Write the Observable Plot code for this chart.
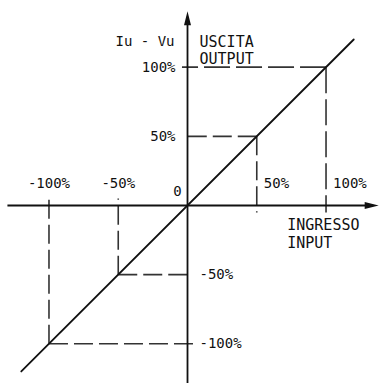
<!DOCTYPE html>
<html><head><meta charset="utf-8">
<script src="https://cdn.jsdelivr.net/npm/d3@7"></script>
<script src="https://cdn.jsdelivr.net/npm/@observablehq/plot@0.6"></script>
<style>body{margin:0;background:#fff} svg{display:block}</style>
</head><body><div id="chart"></div>
<script>
// data (percent of full scale)
const levels = [100, 50, -50, -100];
const levelLabels = ["100%", "50%", "-50%", "-100%"];
const lineExtent = [-120, 120];
const xAxisExtent = [-130, 138];
const yAxisExtent = [-130, 140.5];
const yTitle = "Iu - Vu";
const outputTitle = ["USCITA", "OUTPUT"];
const inputTitle = ["INGRESSO", "INPUT"];
const inputTitleX = 72;
const zeroLabel = "0";

const diag = lineExtent.map(v => ({x: v, y: v}));
const over = (v, a) => (v > 0 ? -a : a);
const hGuides = levels.map(v => ({x1: v, x2: over(v, 4), y: v}));
const vGuides = levels.map(v => ({y1: v, y2: over(v, 5), x: v}));
const labels = levels.map((v, i) => ({v, label: levelLabels[i]}));
const isBig = d => d.x1 === 100 || d.y1 === 100;

const arrowHead = {
  draw(ctx) {
    ctx.moveTo(0, 0);
    ctx.lineTo(-3.5, 14);
    ctx.lineTo(3.5, 14);
    ctx.closePath();
  }
};
const FONT = "DejaVu Sans Mono";
const ink = "#111";
const dashInk = "#333";
const dashOpts = {stroke: dashInk, strokeWidth: 1.6};

const chart = Plot.plot({
  width: 379, height: 383,
  margin: 0,
  x: {domain: [-135, 138.6], axis: null},
  y: {domain: [-128.7, 148.2], axis: null},
  style: {fontFamily: FONT, background: "#fff"},
  marks: [
    // dashed projection guides
    Plot.link(hGuides.filter(isBig), {x1: "x1", x2: "x2", y1: "y", y2: "y", ...dashOpts, strokeDasharray: "26,6"}),
    Plot.link(hGuides.filter(d => !isBig(d)), {x1: "x1", x2: "x2", y1: "y", y2: "y", ...dashOpts, strokeDasharray: "19,6"}),
    Plot.link(vGuides.filter(isBig), {x1: "x", x2: "x", y1: "y1", y2: "y2", ...dashOpts, strokeDasharray: "26,6"}),
    Plot.link(vGuides.filter(d => !isBig(d)), {x1: "x", x2: "x", y1: "y1", y2: "y2", ...dashOpts, strokeDasharray: "19,6"}),
    // axes
    Plot.link([0], {x1: xAxisExtent[0], x2: xAxisExtent[1] - 4, y1: 0, y2: 0, stroke: ink, strokeWidth: 1.8}),
    Plot.link([0], {y1: yAxisExtent[0], y2: yAxisExtent[1] - 4, x1: 0, x2: 0, stroke: ink, strokeWidth: 1.8}),
    Plot.dot([{x: xAxisExtent[1], y: 0}], {x: "x", y: "y", symbol: arrowHead, rotate: 90, fill: ink, stroke: "none", r: 4}),
    Plot.dot([{x: 0, y: yAxisExtent[1]}], {x: "x", y: "y", symbol: arrowHead, rotate: 0, fill: ink, stroke: "none", r: 4}),
    // transfer line
    Plot.line(diag, {x: "x", y: "y", stroke: ink, strokeWidth: 1.8}),
    // y labels
    Plot.text(labels.filter(d => d.v > 0), {x: 0, y: "v", text: "label", textAnchor: "end", dx: -12, fontSize: 14, fill: ink}),
    Plot.text(labels.filter(d => d.v < 0), {x: 0, y: "v", text: "label", textAnchor: "start", dx: 12, fontSize: 14, fill: ink}),
    // x labels
    Plot.text(labels.filter(d => d.v < 0), {x: "v", y: 0, text: "label", textAnchor: "middle", dy: -22, fontSize: 14, fill: ink}),
    Plot.text(labels.filter(d => d.v > 0), {x: "v", y: 0, text: "label", textAnchor: "start", dx: 7, dy: -22, fontSize: 14, fill: ink}),
    Plot.text([zeroLabel], {x: 0, y: 0, text: d => d, dx: -10, dy: -14, fontSize: 14, fill: ink}),
    // titles
    Plot.text([yTitle], {x: 0, frameAnchor: "top", text: d => d, textAnchor: "end", dx: -13, dy: 36, fontSize: 14, fill: ink}),
    Plot.text([outputTitle[0]], {x: 0, frameAnchor: "top", text: d => d, textAnchor: "start", dx: 12, dy: 36, fontSize: 15, fill: ink}),
    Plot.text([outputTitle[1]], {x: 0, frameAnchor: "top", text: d => d, textAnchor: "start", dx: 12, dy: 53, fontSize: 15, fill: ink}),
    Plot.text([inputTitle[0]], {x: inputTitleX, y: 0, text: d => d, textAnchor: "start", dy: 20, fontSize: 15, fill: ink}),
    Plot.text([inputTitle[1]], {x: inputTitleX, y: 0, text: d => d, textAnchor: "start", dy: 38, fontSize: 15, fill: ink}),
  ]
});
document.getElementById("chart").appendChild(chart);
</script></body></html>
